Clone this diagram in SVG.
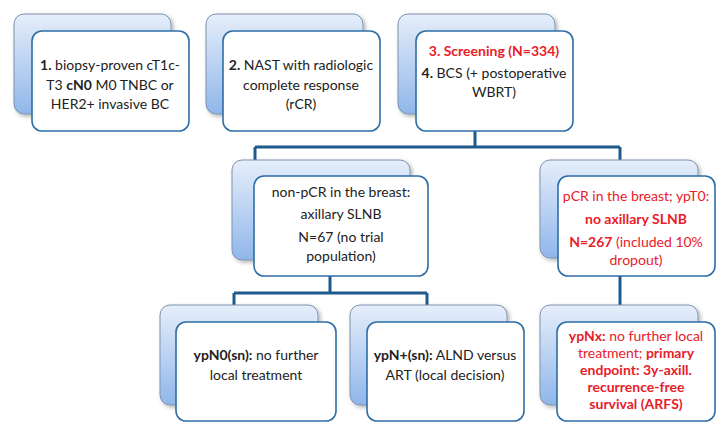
<svg xmlns="http://www.w3.org/2000/svg" width="728" height="433" viewBox="0 0 728 433">
<defs>
<linearGradient id="g" x1="0" y1="0" x2="0" y2="1"><stop offset="0" stop-color="#e6eefa"/><stop offset="1" stop-color="#8fb6ea"/></linearGradient>
<filter id="s" x="-10%" y="-10%" width="130%" height="130%"><feDropShadow dx="2" dy="2" stdDeviation="2" flood-color="#000" flood-opacity="0.3"/></filter>
</defs>
<style>
.b{fill:url(#g);stroke:#7f93ad;stroke-width:1;filter:url(#s)}
.f{fill:#fff;stroke:#2e6ea6;stroke-width:1.6}
text{font-family:Lato,"Open Sans",sans-serif;font-size:14px;fill:#222;text-anchor:middle}
.r{fill:#e8202a}
.k{font-weight:bold}
.c{fill:none;stroke:#1f5a8c;stroke-width:3}
</style>
<rect width="728" height="433" fill="#fff"/>
<g id="connectors">
<path class="c" d="M475 130V147M255 147H620M255 147V175M620 147V175"/>
<path class="c" d="M330 276V293M234 293H427M234 293V322M427 293V322"/>
<path class="c" d="M620 276V322"/>
</g>
<g id="n1"><rect class="b" x="14" y="14" width="157" height="100" rx="10"/><rect class="f" x="32" y="31" width="157" height="100" rx="10"/>
<text x="110" y="70"><tspan class="k">1.</tspan> biopsy-proven cT1c-</text><text x="110" y="90">T3 <tspan class="k">cN0</tspan> M0 TNBC or</text><text x="110" y="109">HER2+ invasive BC</text></g>
<g id="n2"><rect class="b" x="206" y="14" width="157" height="100" rx="10"/><rect class="f" x="223" y="31" width="157" height="100" rx="10"/>
<text x="301" y="70"><tspan class="k">2.</tspan> NAST with radiologic</text><text x="301" y="90">complete response</text><text x="301" y="109">(rCR)</text></g>
<g id="n3"><rect class="b" x="398" y="14" width="157" height="100" rx="10"/><rect class="f" x="416" y="31" width="157" height="100" rx="10"/>
<text x="494" y="56" class="r k">3. Screening (N=334)</text><text x="494" y="78"><tspan class="k">4.</tspan> BCS (+ postoperative</text><text x="494" y="97">WBRT)</text></g>
<g id="n4"><rect class="b" x="232" y="160" width="178" height="100" rx="10"/><rect class="f" x="254" y="176" width="174" height="100" rx="10"/>
<text x="341" y="197">non-pCR in the breast:</text><text x="341" y="219">axillary SLNB</text><text x="341" y="242">N=67 (no trial</text><text x="341" y="261">population)</text></g>
<g id="n5"><rect class="b" x="540" y="160" width="158" height="98" rx="10"/><rect class="f" x="558" y="176" width="157" height="100" rx="10"/>
<text x="636" y="201" class="r">pCR in the breast; ypT0:</text><text x="636" y="224" class="r k">no axillary SLNB</text><text x="636" y="247" class="r"><tspan class="k">N=267</tspan> (included 10%</text><text x="636" y="265" class="r">dropout)</text></g>
<g id="n6"><rect class="b" x="160" y="305" width="158" height="100" rx="10"/><rect class="f" x="176" y="322" width="160" height="99" rx="10"/>
<text x="256" y="360"><tspan class="k">ypN0(sn):</tspan> no further</text><text x="256" y="380">local treatment</text></g>
<g id="n7"><rect class="b" x="350" y="305" width="157" height="100" rx="10"/><rect class="f" x="367" y="322" width="157" height="99" rx="10"/>
<text x="445" y="360"><tspan class="k">ypN+(sn):</tspan> ALND versus</text><text x="445" y="380">ART (local decision)</text></g>
<g id="n8"><rect class="b" x="540" y="305" width="158" height="100" rx="10"/><rect class="f" x="557" y="322" width="158" height="99" rx="10"/>
<text x="636" y="341" class="r"><tspan class="k">ypNx:</tspan> no further local</text><text x="636" y="358" class="r">treatment; <tspan class="k">primary</tspan></text><text x="636" y="375" class="r k">endpoint: 3y-axill.</text><text x="636" y="392" class="r k">recurrence-free</text><text x="636" y="409" class="r k">survival (ARFS)</text></g>
</svg>
